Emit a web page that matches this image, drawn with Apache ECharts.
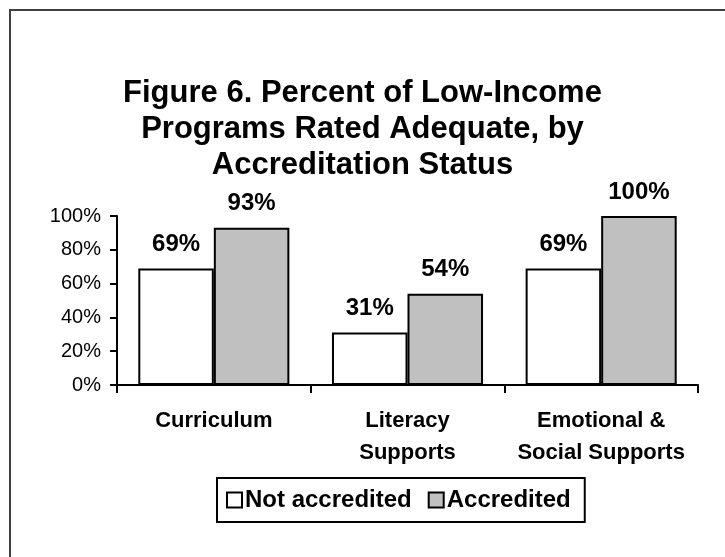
<!DOCTYPE html>
<html>
<head>
<meta charset="utf-8">
<script src="https://cdn.jsdelivr.net/npm/echarts@6/dist/echarts.min.js"></script>
<style>
html,body{margin:0;padding:0;background:#fff;}
#c{width:725px;height:557px;}
</style>
</head>
<body>
<div id="c"></div>
<script>
const categories = ['Curriculum', 'Literacy\nSupports', 'Emotional &\nSocial Supports'];
const notAccredited = [69, 31, 69];
const accredited = [93, 54, 100];
const seriesNames = ['Not accredited', 'Accredited'];
const titleText = 'Figure 6. Percent of Low-Income\nPrograms Rated Adequate, by\nAccreditation Status';

const FF = 'Liberation Sans, Arial, sans-serif';
const chart = echarts.init(document.getElementById('c'), null, {renderer: 'canvas'});
const labelStyle = {
  show: true, position: 'top', distance: 12,
  formatter: p => p.value + '%',
  fontFamily: FF, fontWeight: 'bold', fontSize: 24, color: '#000'
};
chart.setOption({
  animation: false,
  backgroundColor: '#fff',
  graphic: [{
    type: 'rect', shape: {x: 10, y: 10, width: 800, height: 700},
    style: {fill: 'none', stroke: '#404040', lineWidth: 2}, z: -1
  }],
  title: {
    text: titleText, left: 'center', top: 70,
    textStyle: {fontFamily: FF, fontWeight: 'bold', fontSize: 31, lineHeight: 36, color: '#000'}
  },
  grid: {left: 117, right: 27, top: 216, bottom: 172, containLabel: false},
  legend: {
    data: seriesNames, bottom: 35, left: 217,
    borderColor: '#000', borderWidth: 2, padding: [10, 14, 10, 9], itemGap: 16,
    itemWidth: 15, itemHeight: 15, icon: 'rect',
    textStyle: {fontFamily: FF, fontWeight: 'bold', fontSize: 24, color: '#000', padding: [0, 0, 0, -2]}
  },
  xAxis: {
    type: 'category', data: categories,
    axisLine: {lineStyle: {color: '#000', width: 2}},
    axisTick: {show: true, length: 8, lineStyle: {color: '#000', width: 2}},
    axisLabel: {interval: 0, hideOverlap: false, fontFamily: FF, fontWeight: 'bold', fontSize: 22, color: '#000', lineHeight: 32, margin: 20}
  },
  yAxis: {
    type: 'value', min: 0, max: 100, interval: 20,
    axisLine: {show: true, lineStyle: {color: '#000', width: 2}},
    axisTick: {show: true, length: 7, lineStyle: {color: '#000', width: 2}},
    splitLine: {show: false},
    axisLabel: {formatter: '{value}%', fontFamily: FF, fontSize: 20, color: '#000', margin: 16}
  },
  series: [
    {name: seriesNames[0], type: 'bar', data: notAccredited, barGap: '0%', barCategoryGap: '22%',
     itemStyle: {color: '#fff', borderColor: '#000', borderWidth: 2}, label: labelStyle},
    {name: seriesNames[1], type: 'bar', data: accredited, barGap: '0%', barCategoryGap: '22%',
     itemStyle: {color: '#c0c0c0', borderColor: '#000', borderWidth: 2}, label: labelStyle}
  ]
});
</script>
</body>
</html>
